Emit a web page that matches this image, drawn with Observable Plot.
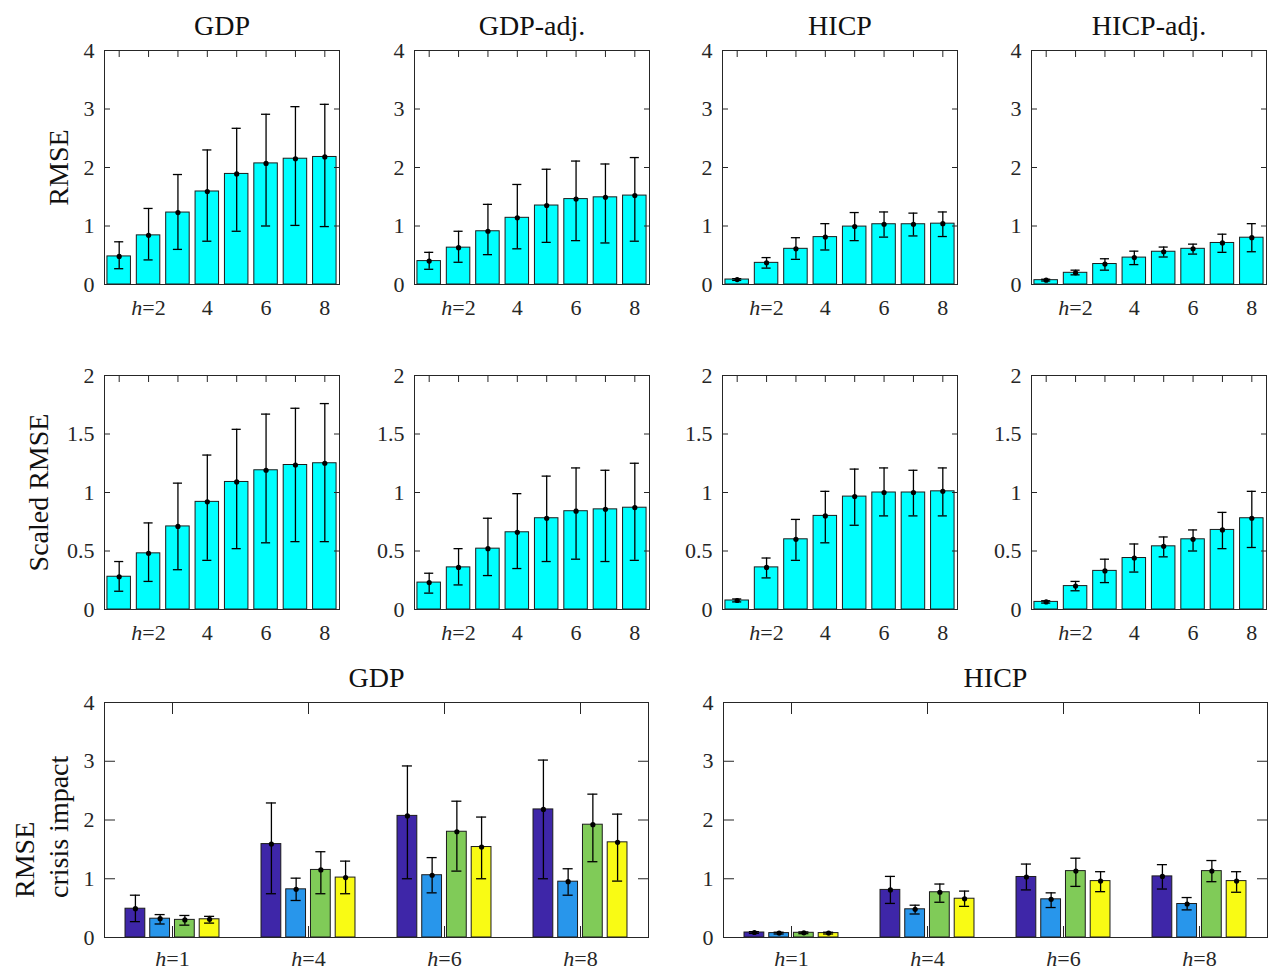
<!DOCTYPE html>
<html><head><meta charset="utf-8">
<script src="https://cdn.jsdelivr.net/npm/d3@7"></script>
<script src="https://cdn.jsdelivr.net/npm/@observablehq/plot@0.6"></script>
<style>
body{margin:0;background:#fff;}
#fig{position:relative;width:1272px;height:970px;background:#fff;overflow:hidden;}
#fig svg{position:absolute;max-width:none;}
#fig svg text, #fig svg g{font-family:"Liberation Serif","Times New Roman",serif !important;font-variant:normal !important;}
</style></head><body><div id="fig"></div>
<script>
// ---------- DATA ----------
const horizons = [1, 2, 3, 4, 5, 6, 7, 8];
const horizonTickLabels = ["", "h=2", "", "4", "", "6", "", "8"];
const rmseTicks = [0, 1, 2, 3, 4];
const scaledTicks = [0, 0.5, 1, 1.5, 2];

const topTitles = ["GDP", "GDP-adj.", "HICP", "HICP-adj."];

// Row 1: RMSE
const gdpMean = [0.48, 0.84, 1.23, 1.59, 1.89, 2.07, 2.15, 2.18];
const gdpLo   = [0.27, 0.42, 0.60, 0.74, 0.91, 1.00, 1.01, 0.99];
const gdpHi   = [0.73, 1.30, 1.88, 2.30, 2.67, 2.91, 3.04, 3.08];

const gdpAdjMean = [0.40, 0.63, 0.91, 1.14, 1.35, 1.46, 1.49, 1.52];
const gdpAdjLo   = [0.26, 0.38, 0.51, 0.61, 0.72, 0.75, 0.71, 0.74];
const gdpAdjHi   = [0.55, 0.91, 1.37, 1.71, 1.97, 2.11, 2.06, 2.17];

const hicpMean = [0.085, 0.37, 0.61, 0.81, 0.99, 1.03, 1.03, 1.04];
const hicpLo   = [0.07, 0.28, 0.43, 0.59, 0.75, 0.81, 0.83, 0.82];
const hicpHi   = [0.10, 0.46, 0.80, 1.04, 1.23, 1.24, 1.22, 1.24];

const hicpAdjMean = [0.074, 0.20, 0.35, 0.46, 0.56, 0.61, 0.71, 0.80];
const hicpAdjLo   = [0.06, 0.165, 0.245, 0.34, 0.47, 0.52, 0.55, 0.56];
const hicpAdjHi   = [0.09, 0.245, 0.44, 0.57, 0.64, 0.69, 0.86, 1.04];

// Row 2: Scaled RMSE
const sGdpMean = [0.28, 0.48, 0.71, 0.92, 1.09, 1.19, 1.235, 1.25];
const sGdpLo   = [0.156, 0.24, 0.34, 0.42, 0.52, 0.57, 0.58, 0.58];
const sGdpHi   = [0.41, 0.74, 1.08, 1.32, 1.54, 1.67, 1.72, 1.76];

const sGdpAdjMean = [0.23, 0.36, 0.52, 0.66, 0.78, 0.84, 0.856, 0.87];
const sGdpAdjLo   = [0.14, 0.21, 0.29, 0.35, 0.41, 0.43, 0.41, 0.42];
const sGdpAdjHi   = [0.31, 0.52, 0.78, 0.99, 1.14, 1.21, 1.19, 1.25];

const sHicpMean = [0.077, 0.36, 0.60, 0.80, 0.965, 1.00, 1.00, 1.01];
const sHicpLo   = [0.065, 0.27, 0.42, 0.57, 0.72, 0.80, 0.80, 0.80];
const sHicpHi   = [0.09, 0.44, 0.77, 1.01, 1.20, 1.21, 1.19, 1.21];

const sHicpAdjMean = [0.065, 0.20, 0.33, 0.44, 0.54, 0.60, 0.68, 0.78];
const sHicpAdjLo   = [0.055, 0.16, 0.23, 0.32, 0.45, 0.50, 0.52, 0.53];
const sHicpAdjHi   = [0.075, 0.24, 0.43, 0.56, 0.62, 0.68, 0.83, 1.01];

// Row 3: RMSE crisis impact (groups h=1,4,6,8; 4 series each)
const crisisGroups = ["h=1", "h=4", "h=6", "h=8"];
const seriesColors = ["#3E26A8", "#2896EB", "#80CB58", "#F9FB14"];

const crisisGdpMean = [[0.49, 0.32, 0.30, 0.31], [1.59, 0.82, 1.15, 1.02], [2.07, 1.06, 1.80, 1.54], [2.18, 0.95, 1.92, 1.62]];
const crisisGdpLo   = [[0.27, 0.23, 0.21, 0.245], [0.745, 0.63, 0.745, 0.745], [1.00, 0.76, 1.13, 1.00], [1.00, 0.72, 1.29, 0.96]];
const crisisGdpHi   = [[0.72, 0.39, 0.375, 0.36], [2.29, 1.01, 1.46, 1.30], [2.92, 1.36, 2.32, 2.05], [3.02, 1.17, 2.44, 2.10]];

const crisisHicpMean = [[0.085, 0.075, 0.08, 0.075], [0.81, 0.48, 0.77, 0.66], [1.03, 0.65, 1.13, 0.96], [1.04, 0.57, 1.13, 0.96]];
const crisisHicpLo   = [[0.07, 0.06, 0.065, 0.06], [0.58, 0.40, 0.60, 0.53], [0.81, 0.51, 0.87, 0.78], [0.825, 0.47, 0.95, 0.77]];
const crisisHicpHi   = [[0.10, 0.09, 0.095, 0.09], [1.04, 0.55, 0.91, 0.79], [1.25, 0.76, 1.35, 1.12], [1.24, 0.68, 1.31, 1.12]];

// ---------- RENDER ----------
const FONT = '"Liberation Serif", "Times New Roman", serif';
const AX = "#262626";
const TICKFS = 22;
const fig = document.getElementById("fig");

function singleRows(mean, lo, hi) {
  const bw = 0.8; // MATLAB default bar width
  return horizons.map((h, i) => ({x: h, x1: h - bw / 2, x2: h + bw / 2, mean: mean[i], lo: lo[i], hi: hi[i], fill: "#00FFFF"}));
}
function groupedRows(mean, lo, hi) {
  const n = seriesColors.length;
  const gw = Math.min(0.8, n / (n + 1.5));
  const bw = 0.8 * gw / n;
  const rows = [];
  crisisGroups.forEach((g, gi) => {
    seriesColors.forEach((c, si) => {
      const xc = gi + 1 - gw / 2 + (2 * si + 1) * gw / (2 * n);
      rows.push({x: xc, x1: xc - bw / 2, x2: xc + bw / 2, mean: mean[gi][si], lo: lo[gi][si], hi: hi[gi][si], fill: c});
    });
  });
  return rows;
}

function panel(o) {
  const mL = 110, mT = 50, mB = 45, mR = 12;
  const marks = [
    Plot.axisX({anchor: "bottom", ticks: o.xTicks, tickSize: o.tl, dy: -o.tl, tickFormat: () => "", stroke: AX, label: null}),
    Plot.rectY(o.rows, {x1: "x1", x2: "x2", y1: 0, y2: "mean", fill: d => d.fill, stroke: "#1c1c1c", strokeWidth: 1}),
    Plot.ruleX(o.rows, {x: "x", y1: "lo", y2: "hi", stroke: "#000", strokeWidth: 1.3}),
    Plot.ruleY(o.rows, {y: "lo", x1: d => d.x - o.cap, x2: d => d.x + o.cap, stroke: "#000", strokeWidth: 1.3}),
    Plot.ruleY(o.rows, {y: "hi", x1: d => d.x - o.cap, x2: d => d.x + o.cap, stroke: "#000", strokeWidth: 1.3}),
    Plot.dot(o.rows, {x: "x", y: "mean", r: 2.6, fill: "#000", stroke: null}),
    Plot.axisX({anchor: "top", ticks: o.xTicks, tickSize: o.tl, dy: o.tl, tickFormat: () => "", stroke: AX, label: null}),
    Plot.axisY({anchor: "left", ticks: o.yTicks, tickSize: o.tl, dx: o.tl, tickFormat: () => "", stroke: AX, label: null}),
    Plot.axisY({anchor: "right", ticks: o.yTicks, tickSize: o.tl, dx: -o.tl, tickFormat: () => "", stroke: AX, label: null}),
    Plot.axisY({anchor: "left", ticks: o.yTicks, tickSize: 0, tickPadding: 10, tickFormat: d => String(d), label: null, fill: AX, fontFamily: FONT, fontSize: TICKFS, fontVariant: "normal"}),
    Plot.axisX({anchor: "bottom", ticks: o.xTicks, tickSize: 0, tickPadding: o.xpad, tickFormat: o.xfmt, label: null, fill: AX, fontFamily: FONT, fontSize: TICKFS, fontVariant: "normal"}),
    Plot.frame({stroke: AX, strokeWidth: 1})
  ];
  if (o.title) marks.push(Plot.text([o.title], {text: d => d, frameAnchor: "top", dy: -24, fontSize: 28, fontFamily: FONT, lineAnchor: "middle", fill: "#111"}));
  if (o.ylabel) marks.push(Plot.text([o.ylabel], {text: d => d, frameAnchor: "left", dx: o.ylDx, dy: o.ylDy || 0, rotate: -90, fontSize: 28, fontFamily: FONT, lineAnchor: "middle", lineHeight: 1.2, textAnchor: o.ylAnchor || "middle", fill: "#111"}));
  const svg = Plot.plot({
    width: o.w + mL + mR, height: o.h + mT + mB,
    marginLeft: mL, marginTop: mT, marginBottom: mB, marginRight: mR,
    style: {fontFamily: FONT, fontSize: TICKFS + "px", color: AX, background: "transparent", overflow: "visible"},
    x: {type: "linear", domain: o.xDomain},
    y: {domain: o.yDomain},
    color: {type: "identity"},
    marks
  });
  svg.querySelectorAll("text").forEach(t => {
    t.style.fontFamily = FONT;
    if (t.children.length === 0 && /^h=/.test(t.textContent)) {
      const rest = t.textContent.slice(1);
      t.textContent = "";
      const ts = document.createElementNS("http://www.w3.org/2000/svg", "tspan");
      ts.setAttribute("font-style", "italic");
      ts.textContent = "h";
      t.appendChild(ts);
      t.appendChild(document.createTextNode(rest));
    }
  });
  svg.style.left = (o.x0 - mL) + "px";
  svg.style.top = (o.y0 - mT) + "px";
  fig.appendChild(svg);
}

const colLefts = [104, 414, 722, 1031];
const row1 = [[gdpMean, gdpLo, gdpHi], [gdpAdjMean, gdpAdjLo, gdpAdjHi], [hicpMean, hicpLo, hicpHi], [hicpAdjMean, hicpAdjLo, hicpAdjHi]];
const row2 = [[sGdpMean, sGdpLo, sGdpHi], [sGdpAdjMean, sGdpAdjLo, sGdpAdjHi], [sHicpMean, sHicpLo, sHicpHi], [sHicpAdjMean, sHicpAdjLo, sHicpAdjHi]];

row1.forEach((s, i) => panel({
  x0: colLefts[i], y0: 50, w: 235, h: 234,
  rows: singleRows(...s), xDomain: [0.5, 8.5], xTicks: horizons, xfmt: d => horizonTickLabels[d - 1],
  yDomain: [0, 4], yTicks: rmseTicks, tl: 6, cap: 0.155, xpad: 15,
  title: topTitles[i], ylabel: i === 0 ? "RMSE" : null, ylDx: -47
}));
row2.forEach((s, i) => panel({
  x0: colLefts[i], y0: 375, w: 235, h: 234,
  rows: singleRows(...s), xDomain: [0.5, 8.5], xTicks: horizons, xfmt: d => horizonTickLabels[d - 1],
  yDomain: [0, 2], yTicks: scaledTicks, tl: 6, cap: 0.155, xpad: 15,
  title: null, ylabel: i === 0 ? "Scaled RMSE" : null, ylDx: -67
}));
panel({
  x0: 104, y0: 702, w: 544, h: 235,
  rows: groupedRows(crisisGdpMean, crisisGdpLo, crisisGdpHi), xDomain: [0.5, 4.5], xTicks: [1, 2, 3, 4], xfmt: d => crisisGroups[d - 1],
  yDomain: [0, 4], yTicks: rmseTicks, tl: 11, cap: 0.037, xpad: 13,
  title: "GDP", ylabel: "RMSE\ncrisis impact", ylDx: -64, ylDy: 78, ylAnchor: "start"
});
panel({
  x0: 723, y0: 702, w: 544, h: 235,
  rows: groupedRows(crisisHicpMean, crisisHicpLo, crisisHicpHi), xDomain: [0.5, 4.5], xTicks: [1, 2, 3, 4], xfmt: d => crisisGroups[d - 1],
  yDomain: [0, 4], yTicks: rmseTicks, tl: 11, cap: 0.037, xpad: 13,
  title: "HICP", ylabel: null
});
</script></body></html>
